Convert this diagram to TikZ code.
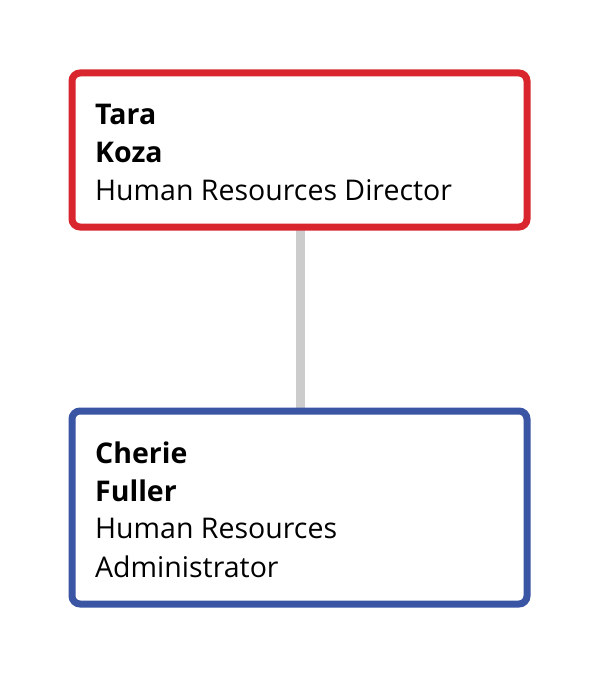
\documentclass[tikz,border=0pt]{standalone}
\usepackage{fontspec}
\setmainfont{Open Sans}
\definecolor{cred}{HTML}{D9252E}
\definecolor{cblue}{HTML}{3A55A4}
\definecolor{cgray}{HTML}{CCCCCC}
\begin{document}
\begin{tikzpicture}[x=1pt,y=-1pt,
  box/.style={line width=7pt,rounded corners=8pt,fill=white},
  txt/.style={anchor=base west,inner sep=0pt,font=\fontsize{28.5}{38}\selectfont}]
\useasboundingbox (0,0) rectangle (600,679);
\coordinate (a) at (300,227);
\coordinate (b) at (300,411);
\draw[cgray,line width=9pt] (a) -- (b);
\draw[box,draw=cred] (72,73) rectangle (527,227);
\draw[box,draw=cblue] (72,411) rectangle (527,604);
\node[txt] (t1) at (95,125) {\bfseries Tara};
\node[txt] (t2) at (95,163) {\bfseries Koza};
\node[txt] (t3) at (95,200) {Human Resources Director};
\node[txt] (c1) at (95,463) {\bfseries Cherie};
\node[txt] (c2) at (95,501) {\bfseries Fuller};
\node[txt] (c3) at (95,538) {Human Resources};
\node[txt] (c4) at (95,577) {Administrator};
\end{tikzpicture}
\end{document}
